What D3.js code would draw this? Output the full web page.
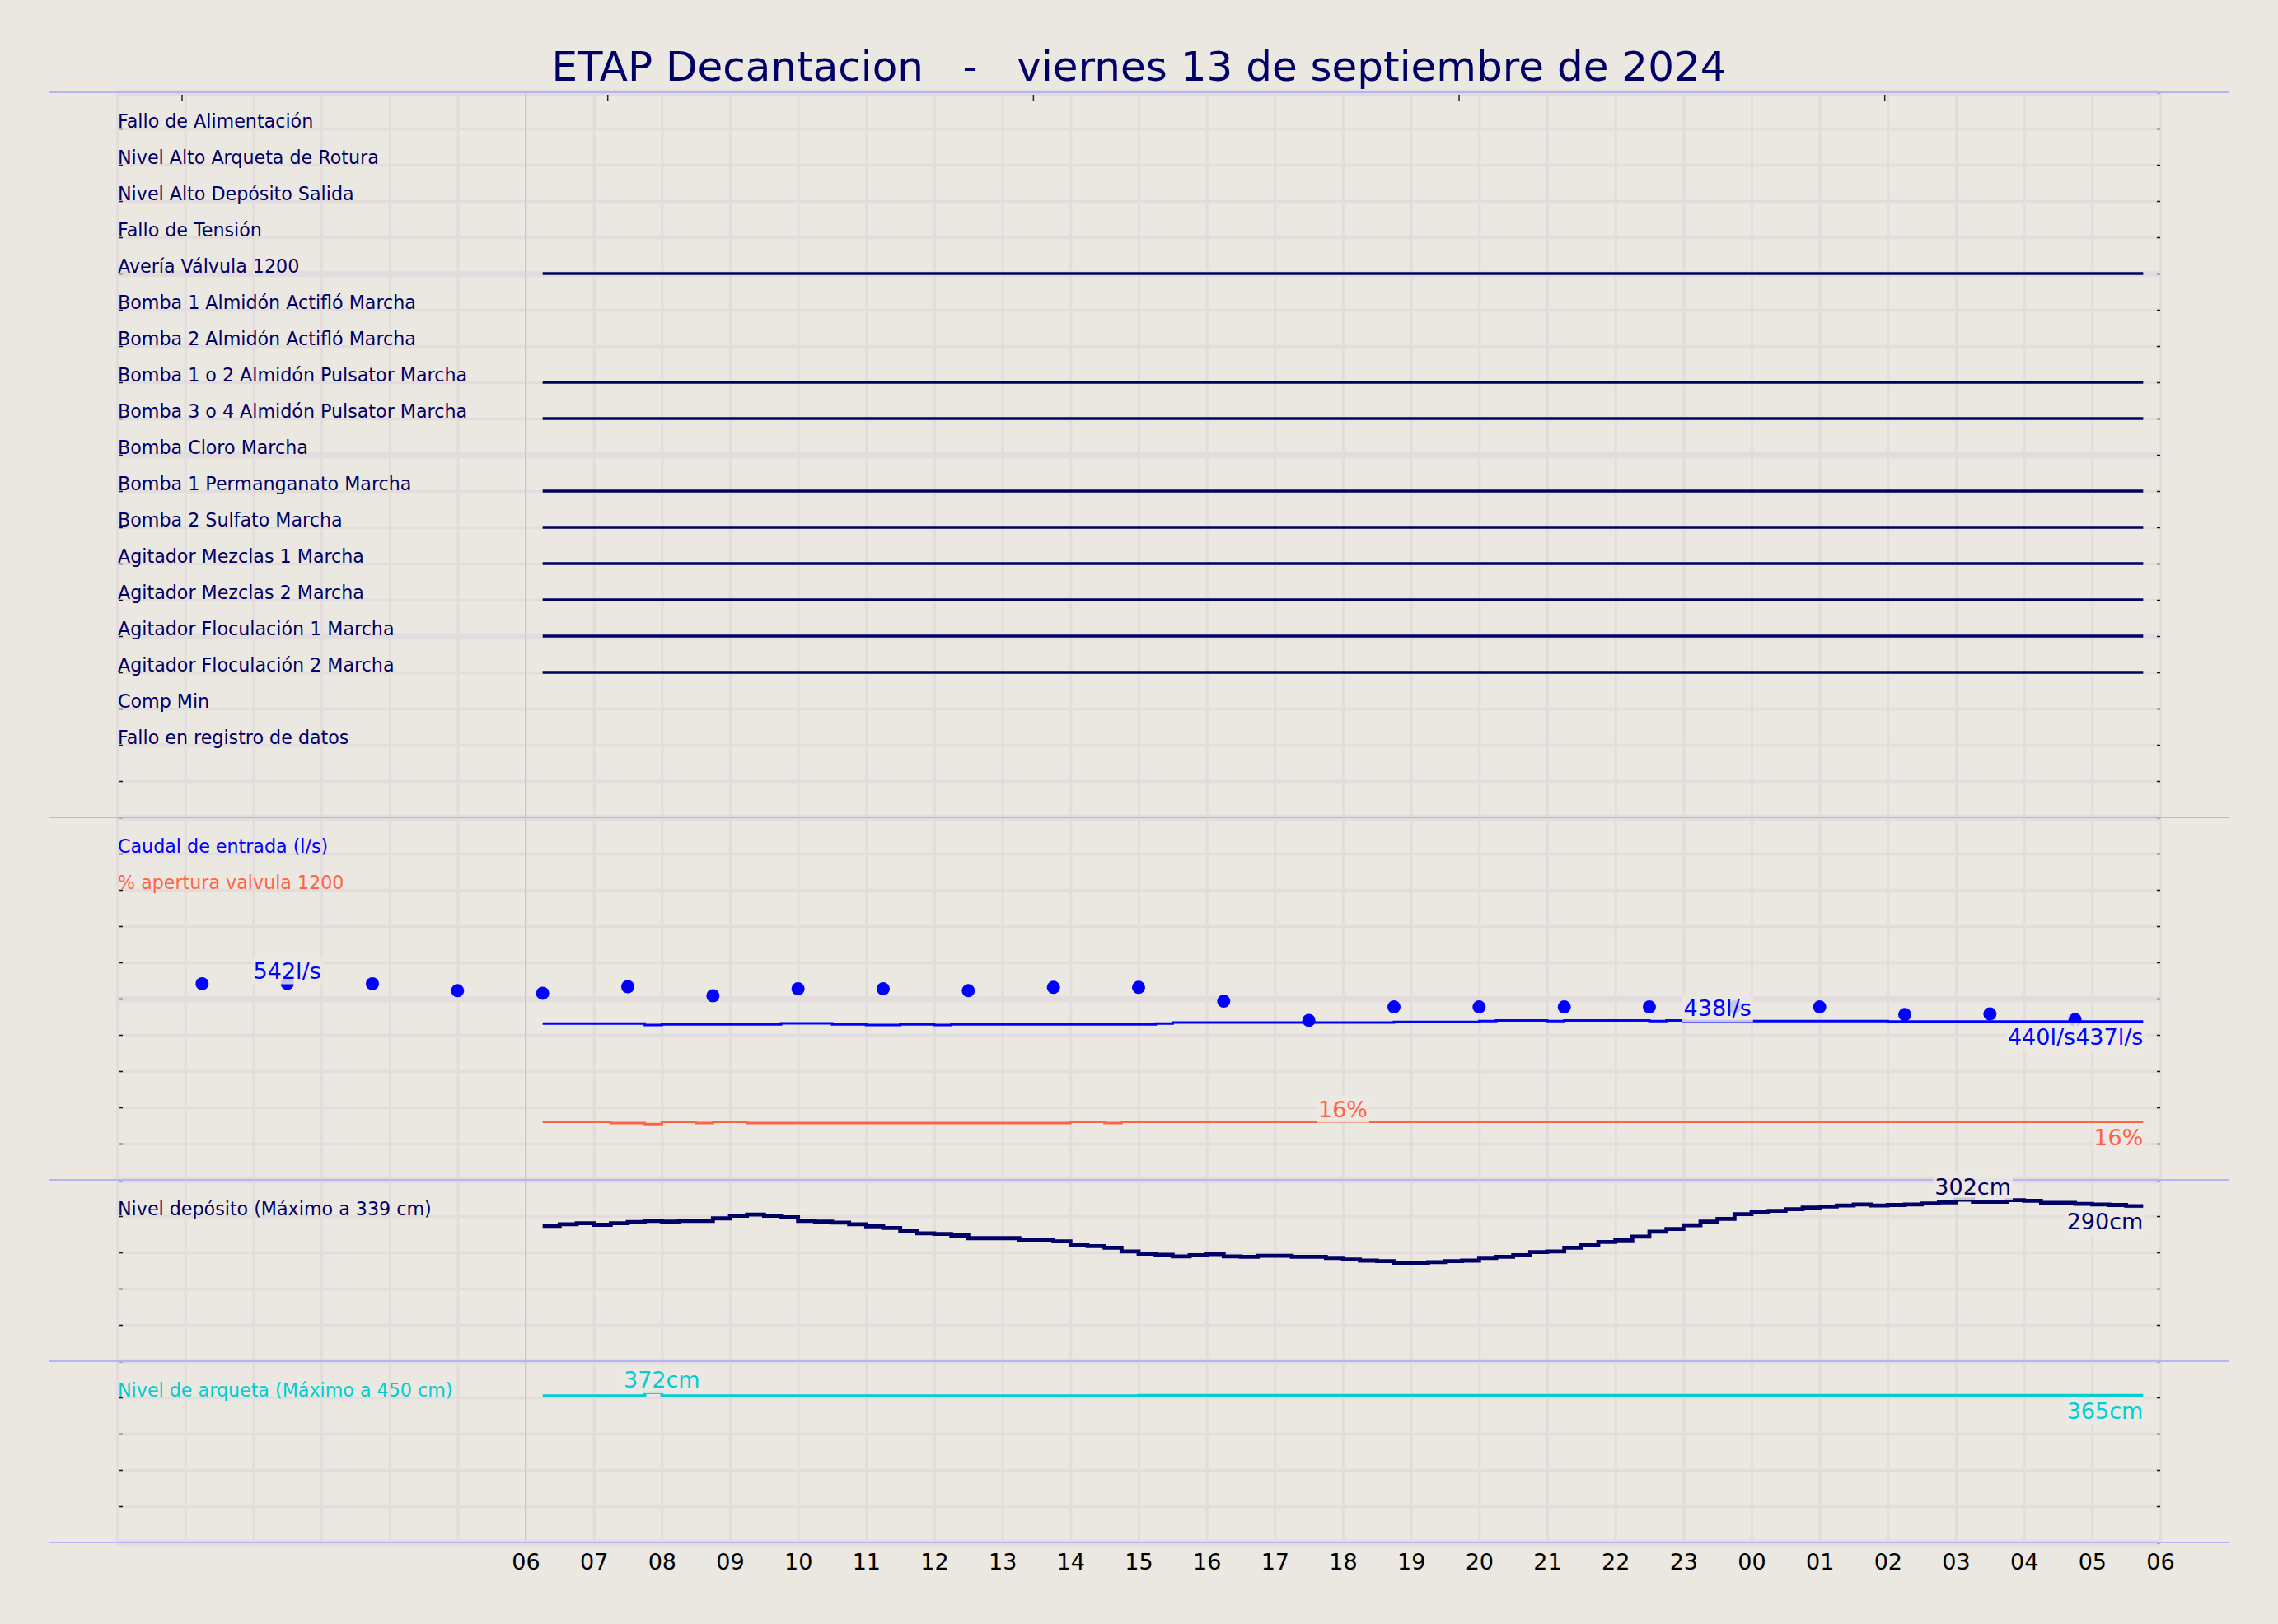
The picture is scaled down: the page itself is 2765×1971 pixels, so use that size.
<!DOCTYPE html>
<html>
<head>
<meta charset="utf-8">
<script src="https://cdn.jsdelivr.net/npm/d3@7"></script>
<style>
  body { margin: 0; background: #ebe7e1; }
  svg { font-family: "DejaVu Sans", sans-serif; }
</style>
</head>
<body>
<script>

// Señales digitales (panel superior)
var etiquetas = ["Fallo de Alimentación", "Nivel Alto Arqueta de Rotura", "Nivel Alto Depósito Salida",
  "Fallo de Tensión", "Avería Válvula 1200", "Bomba 1 Almidón Actifló Marcha", "Bomba 2 Almidón Actifló Marcha",
  "Bomba 1 o 2 Almidón Pulsator Marcha", "Bomba 3 o 4 Almidón Pulsator Marcha", "Bomba Cloro Marcha",
  "Bomba 1 Permanganato Marcha", "Bomba 2 Sulfato Marcha", "Agitador Mezclas 1 Marcha", "Agitador Mezclas 2 Marcha",
  "Agitador Floculación 1 Marcha", "Agitador Floculación 2 Marcha", "Comp Min", "Fallo en registro de datos"];
var activa = [0, 0, 0, 0, 1, 0, 0, 1, 1, 0, 1, 1, 1, 1, 1, 1, 0, 0];

// Series cada 15 min, de 06:15 a 05:45
var caudal = [431, 431, 431, 431, 431, 431, 427, 429, 429, 429, 429, 429, 429, 429,
  432, 432, 432, 429, 429, 427, 427, 429, 429, 427,
  429, 429, 429, 429, 429, 429, 429, 429, 429, 429, 429, 429, 431,
  434, 434, 434, 434, 434, 434, 434, 434, 434, 434, 434, 434, 434,
  436, 436, 436, 436, 436, 438, 440, 440, 440, 438, 440, 440, 440, 440, 440, 438, 440,
  438, 438, 438, 438, 438, 438, 438, 438, 438, 438, 438, 438,
  437, 437, 437, 437, 437, 437, 437, 437, 437, 437, 437, 437, 437, 437, 437, 437];

var apertura = [16, 16, 16, 16, 15.7, 15.7, 15.4, 16, 16, 15.7, 16, 16,
  15.7, 15.7, 15.7, 15.7, 15.7, 15.7, 15.7, 15.7, 15.7, 15.7, 15.7, 15.7, 15.7, 15.7, 15.7, 15.7, 15.7, 15.7, 15.7,
  16, 16, 15.7,
  16, 16, 16, 16, 16, 16, 16, 16, 16, 16, 16, 16, 16, 16, 16, 16, 16, 16, 16, 16,
  16, 16, 16, 16, 16, 16, 16, 16, 16, 16, 16, 16, 16, 16, 16, 16, 16, 16, 16, 16,
  16, 16, 16, 16, 16, 16, 16, 16, 16, 16, 16, 16, 16, 16, 16, 16, 16, 16, 16, 16, 16];

var deposito = [253, 256, 258, 255, 258, 260, 262, 261, 262, 262, 267, 272, 274, 272, 269, 262,
  261, 259, 256, 252, 249, 244, 239, 238, 235, 230, 230, 230, 227, 227, 224, 218,
  215, 212, 205, 201, 199, 196, 198, 200, 196, 195, 197, 197, 195, 195, 193, 190,
  188, 187, 184, 184, 185, 187, 188, 193, 195, 198, 204, 205, 212, 218, 223, 226,
  233, 242, 247, 254, 261, 266, 275, 279, 281, 284, 287, 289, 291, 293, 291, 292,
  293, 295, 297, 302, 298, 298, 301, 300, 296, 296, 294, 293, 292, 290, 290];

var arqueta = [364, 364, 364, 364, 364, 364, 372,
  364, 364, 364, 364, 364, 364, 364, 364, 364, 364, 364, 364, 364, 364,
  364, 364, 364, 364, 364, 364, 364, 364, 364, 364, 364, 364, 364, 364,
  365, 365, 365, 365, 365, 365, 365, 365, 365, 365, 365, 365, 365, 365, 365, 365, 365, 365, 365, 365,
  365, 365, 365, 365, 365, 365, 365, 365, 365, 365, 365, 365, 365, 365, 365, 365, 365, 365, 365, 365,
  365, 365, 365, 365, 365, 365, 365, 365, 365, 365, 365, 365, 365, 365, 365, 365, 365, 365, 365, 365];

// Caudal de entrada puntual
var puntosHora = ["2024-09-13T01:15", "2024-09-13T02:30", "2024-09-13T03:45", "2024-09-13T05:00",
  "2024-09-13T06:15", "2024-09-13T07:30", "2024-09-13T08:45", "2024-09-13T10:00", "2024-09-13T11:15",
  "2024-09-13T12:30", "2024-09-13T13:45", "2024-09-13T15:00", "2024-09-13T16:15", "2024-09-13T17:30",
  "2024-09-13T18:45", "2024-09-13T20:00", "2024-09-13T21:15", "2024-09-13T22:30", "2024-09-13T23:45",
  "2024-09-14T01:00", "2024-09-14T02:15", "2024-09-14T03:30", "2024-09-14T04:45"];
var puntosCaudal = [541, 542, 541, 522, 515, 533, 508, 527, 527, 522, 531, 531, 493, 440,
  477, 477, 477, 477, 477, 477, 456, 458, 442];

// Etiquetas de valores destacados
var notaTexto = ["542l/s", "438l/s", "16%", "302cm", "372cm"];
var notaHora = ["2024-09-13T02:30", "2024-09-13T23:30", "2024-09-13T18:00", "2024-09-14T03:15", "2024-09-13T08:00"];
var notaValor = [542, 438, 16, 302, 372];
var notaSerie = ["caudal", "caudal", "apertura", "deposito", "arqueta"];

var marcasSup = ["2024-09-13T00:57", "2024-09-13T07:12", "2024-09-13T13:27", "2024-09-13T19:42", "2024-09-14T01:57"];

var width = 2765, height = 1971;
var fondo = "#ebe7e1", rejilla = "#e2dddc", navy = "#000066", azul = "#0000ff", tomate = "#ff6347", turquesa = "#00ced1";

var parse = d3.timeParse("%Y-%m-%dT%H:%M");
var horas = d3.timeMinute.every(15).range(parse("2024-09-13T06:15"), parse("2024-09-14T06:00"));

var x = d3.scaleTime()
  .domain([parse("2024-09-13T00:00"), parse("2024-09-14T06:00")])
  .range([142, 2622]);

var fila = d3.scaleLinear().domain([0, 40]).range([112, 1872]);

var escalas = {
  caudal: d3.scaleLinear().domain([0, 1000]).range([fila(30), fila(20)]),
  apertura: d3.scaleLinear().domain([0, 100]).range([fila(30), fila(20)]),
  deposito: d3.scaleLinear().domain([0, 339]).range([fila(35), fila(30)]),
  arqueta: d3.scaleLinear().domain([0, 450]).range([fila(40), fila(35)])
};

var svg = d3.select("body").append("svg")
  .attr("width", width)
  .attr("height", height);

svg.append("rect").attr("width", width).attr("height", height).attr("fill", fondo);

// rejilla vertical (cada hora)
var gx = svg.append("g")
  .attr("transform", "translate(0," + fila(0) + ")")
  .call(d3.axisBottom(x).ticks(d3.timeHour.every(1)).tickSize(fila(40) - fila(0)).tickFormat(""));
gx.select(".domain").remove();
gx.selectAll("line").attr("stroke", rejilla).attr("stroke-width", 3);

// rejilla horizontal
var gy = svg.append("g")
  .attr("transform", "translate(142,0)")
  .call(d3.axisLeft(fila).tickValues(d3.range(0, 41)).tickSize(-2480).tickFormat(""));
gy.select(".domain").remove();
gy.selectAll("line")
  .attr("stroke", rejilla)
  .attr("stroke-width", function(d) { return d % 5 == 0 ? 7.5 : 3.5; });

// marcas pequeñas a izquierda y derecha
var ti = svg.append("g").attr("transform", "translate(145,0)")
  .call(d3.axisRight(fila).tickValues(d3.range(1, 40)).tickSize(4).tickFormat(""));
ti.select(".domain").remove();
ti.selectAll("line").attr("stroke", "#111").attr("stroke-width", 1.5);

var td = svg.append("g").attr("transform", "translate(2622,0)")
  .call(d3.axisLeft(fila).tickValues(d3.range(0, 41)).tickSize(4).tickFormat(""));
td.select(".domain").remove();
td.selectAll("line").attr("stroke", "#111").attr("stroke-width", 1.5);

// marcas superiores
var ts = svg.append("g").attr("transform", "translate(0,115)")
  .call(d3.axisBottom(x).tickValues(marcasSup.map(parse)).tickSize(8).tickFormat(""));
ts.select(".domain").remove();
ts.selectAll("line").attr("stroke", "#222").attr("stroke-width", 1.5);

// separadores de paneles
svg.selectAll("line.sep")
  .data([0, 20, 30, 35, 40])
  .enter().append("line")
  .attr("class", "sep")
  .attr("x1", 60).attr("x2", 2705)
  .attr("y1", function(d) { return fila(d); })
  .attr("y2", function(d) { return fila(d); })
  .attr("stroke", "#b4b4f8")
  .attr("stroke-width", 2);

svg.append("line")
  .attr("x1", x(parse("2024-09-13T06:00"))).attr("x2", x(parse("2024-09-13T06:00")))
  .attr("y1", fila(0)).attr("y2", fila(40) - 2)
  .attr("stroke", "#b8b8ff").attr("stroke-width", 1.5);

// eje inferior
var ticksHora = d3.timeHour.every(1).range(parse("2024-09-13T06:00"), parse("2024-09-14T06:01"));
var gb = svg.append("g")
  .attr("transform", "translate(0," + fila(40) + ")")
  .call(d3.axisBottom(x).tickValues(ticksHora).tickFormat(d3.timeFormat("%H")).tickSize(0).tickPadding(14));
gb.select(".domain").remove();
gb.selectAll("text").attr("fill", "#000").style("font-size", "27px").style("font-family", "DejaVu Sans");

// titulo
svg.append("text")
  .attr("x", width / 2)
  .attr("y", 98)
  .attr("text-anchor", "middle")
  .attr("fill", navy)
  .style("font-size", "50px")
  .style("white-space", "pre")
  .text("ETAP Decantacion   -   viernes 13 de septiembre de 2024");

// nombres de señales
svg.selectAll("text.senal")
  .data(etiquetas)
  .enter().append("text")
  .attr("class", "senal")
  .attr("x", 143)
  .attr("y", function(d, i) { return fila(i + 1) - 1; })
  .attr("fill", navy)
  .style("font-size", "22.2px")
  .text(function(d) { return d; });

var nombresSerie = [
  ["Caudal de entrada (l/s)", 21, azul],
  ["% apertura valvula 1200", 22, tomate],
  ["Nivel depósito (Máximo a 339 cm)", 31, navy],
  ["Nivel de arqueta (Máximo a 450 cm)", 36, turquesa]
];
svg.selectAll("text.serie")
  .data(nombresSerie)
  .enter().append("text")
  .attr("class", "serie")
  .attr("x", 143)
  .attr("y", function(d) { return fila(d[1]) - 1; })
  .attr("fill", function(d) { return d[2]; })
  .style("font-size", "22.2px")
  .text(function(d) { return d[0]; });

// lineas de señales activas
var t0 = horas[0], t1 = horas[horas.length - 1];
svg.selectAll("line.activa")
  .data(activa.map(function(a, i) { return {a: a, i: i}; }).filter(function(d) { return d.a == 1; }))
  .enter().append("line")
  .attr("class", "activa")
  .attr("x1", x(t0)).attr("x2", x(t1))
  .attr("y1", function(d) { return fila(d.i + 1); })
  .attr("y2", function(d) { return fila(d.i + 1); })
  .attr("stroke", navy)
  .attr("stroke-width", 3.3);

// series escalonadas
function escalon(valores, esc, color, grosor) {
  var linea = d3.line()
    .curve(d3.curveStepAfter)
    .x(function(d, i) { return x(horas[i]); })
    .y(function(d) { return esc(d); });
  svg.append("path")
    .datum(valores)
    .attr("d", linea)
    .attr("fill", "none")
    .attr("stroke", color)
    .attr("stroke-width", grosor);
}
escalon(caudal, escalas.caudal, azul, 3);
escalon(apertura, escalas.apertura, tomate, 3);
escalon(deposito, escalas.deposito, navy, 4.8);
escalon(arqueta, escalas.arqueta, turquesa, 3.5);

// puntos de caudal
svg.selectAll("circle.punto")
  .data(puntosCaudal)
  .enter().append("circle")
  .attr("class", "punto")
  .attr("cx", function(d, i) { return x(parse(puntosHora[i])); })
  .attr("cy", function(d) { return escalas.caudal(d); })
  .attr("r", 8)
  .attr("fill", azul);

// etiquetas con caja
var capa = svg.append("g");
function etiqueta(texto, px, py, ancla, color) {
  var g = capa.append("g");
  var t = g.append("text")
    .attr("x", px).attr("y", py)
    .attr("text-anchor", ancla)
    .attr("fill", color)
    .style("font-size", "27px")
    .text(texto);
  var b = t.node().getBBox();
  g.insert("rect", "text")
    .attr("x", b.x - 2).attr("y", b.y - 1)
    .attr("width", b.width + 4).attr("height", b.height + 2)
    .attr("fill", "#ece8e3")
    .attr("opacity", 0.85);
  return t.node().getComputedTextLength();
}

var colores = {caudal: azul, apertura: tomate, deposito: navy, arqueta: turquesa};
notaTexto.forEach(function(txt, i) {
  var esc = escalas[notaSerie[i]];
  etiqueta(txt, x(parse(notaHora[i])), esc(notaValor[i]) - 6, "middle", colores[notaSerie[i]]);
});

// valores finales
var xFin = x(t1);
var anchoFin = etiqueta(caudal[caudal.length - 1] + "l/s", xFin, escalas.caudal(caudal[caudal.length - 1]) + 28, "end", azul);
etiqueta(d3.max(caudal) + "l/s", xFin - anchoFin, escalas.caudal(caudal[caudal.length - 1]) + 28, "end", azul);
etiqueta(apertura[apertura.length - 1] + "%", xFin, escalas.apertura(apertura[apertura.length - 1]) + 28, "end", tomate);
etiqueta(deposito[deposito.length - 1] + "cm", xFin, escalas.deposito(deposito[deposito.length - 1]) + 28, "end", navy);
etiqueta(arqueta[arqueta.length - 1] + "cm", xFin, escalas.arqueta(arqueta[arqueta.length - 1]) + 28, "end", turquesa);

</script>
</body>
</html>
